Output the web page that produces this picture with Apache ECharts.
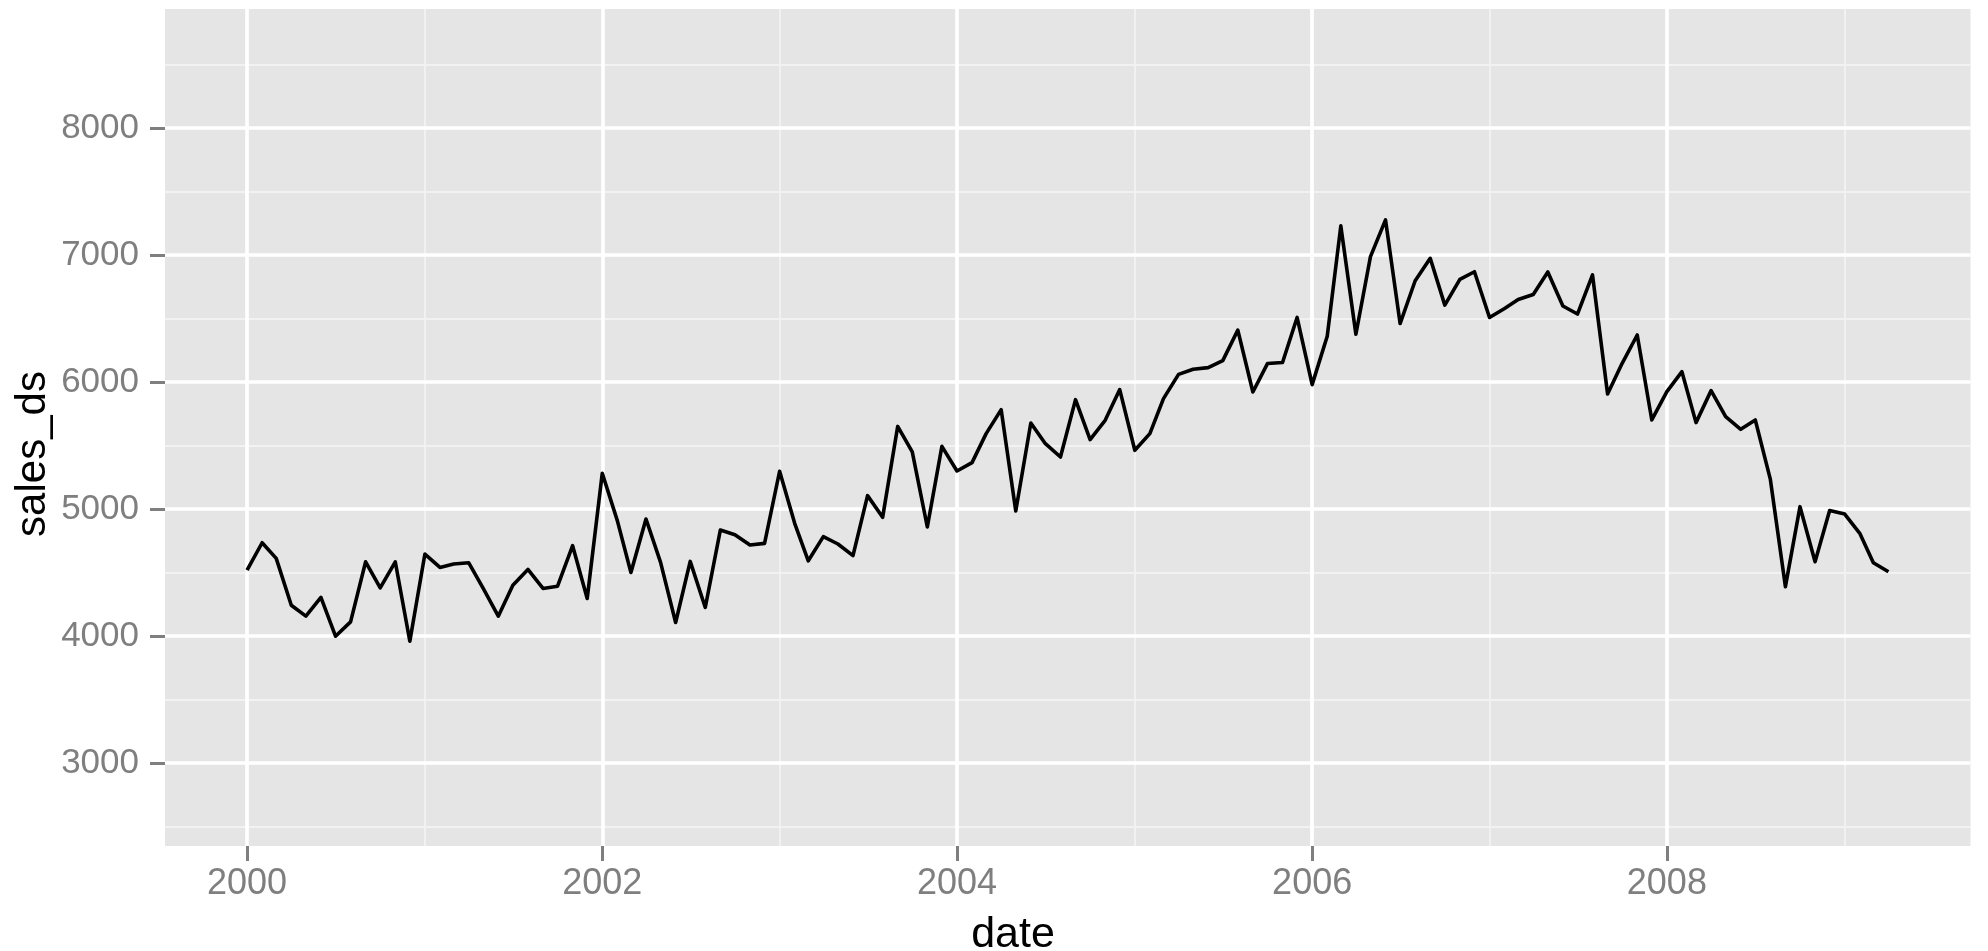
<!DOCTYPE html>
<html>
<head>
    <meta charset="UTF-8">
    <title>sales_ds</title>
    <script src="https://cdn.jsdelivr.net/npm/echarts@6/dist/echarts.min.js"></script>
    <style>
        html, body { margin: 0; padding: 0; background: #fff; }
        #chart { width: 1988px; height: 951px; }
    </style>
</head>
<body>
    <div id="chart"></div>

    <script>
        // monthly values, Jan 2000 .. Apr 2009
        const sales_ds = [
            4518, 4734, 4611, 4242, 4156, 4303, 3998, 4111, 4584, 4379, 4584, 3958,
            4645, 4540, 4566, 4577, 4374, 4156, 4400, 4524, 4374, 4392, 4711, 4295,
            5281, 4908, 4500, 4921, 4579, 4106, 4587, 4224, 4834, 4797, 4716, 4729,
            5297, 4887, 4592, 4782, 4724, 4632, 5105, 4934, 5650, 5449, 4858, 5493,
            5299, 5365, 5593, 5782, 4984, 5677, 5514, 5409, 5861, 5546, 5698, 5940,
            5462, 5593, 5869, 6060, 6100, 6113, 6168, 6408, 5921, 6145, 6153, 6508,
            5979, 6360, 7229, 6376, 6987, 7276, 6460, 6797, 6974, 6605, 6808, 6868,
            6508, 6579, 6650, 6689, 6866, 6598, 6535, 6843, 5905, 6147, 6370, 5701,
            5924, 6081, 5680, 5932, 5727, 5627, 5701, 5233, 4388, 5018, 4585, 4987,
            4960, 4808, 4577, 4506
        ];
        const firstYear = 2000;

        const xTickYears = [2000, 2002, 2004, 2006, 2008];
        const xMinorYears = [2001, 2003, 2005, 2007, 2009];
        const yTicks = [3000, 4000, 5000, 6000, 7000, 8000];
        const yMinorTicks = [2500, 3500, 4500, 5500, 6500, 7500, 8500];
        const yRange = [2346, 8937];

        const FONT = "'Liberation Sans', Arial, Helvetica, sans-serif";
        const GREY = '#7F7F7F';

        // one point per month
        const points = sales_ds.map((v, i) => [Date.UTC(firstYear, i, 1), v]);
        const t0 = points[0][0];
        const t1 = points[points.length - 1][0];
        const pad = (t1 - t0) * 0.05; // ggplot default expansion
        const yearTs = y => Date.UTC(y, 0, 1);

        const chart = echarts.init(document.getElementById('chart'));

        const hidden = { show: false };

        chart.setOption({
            animation: false,
            backgroundColor: '#ffffff',
            grid: {
                left: 165, top: 9, right: 17.5, bottom: 105,
                show: true, backgroundColor: '#E5E5E5', borderWidth: 0,
                containLabel: false, outerBoundsMode: 'none'
            },
            xAxis: [
                {   // minor grid
                    type: 'value', position: 'bottom', min: t0 - pad, max: t1 + pad, z: 0,
                    axisLine: hidden, axisLabel: hidden,
                    axisTick: { show: false, customValues: xMinorYears.map(yearTs) },
                    splitLine: { show: true, lineStyle: { color: '#F2F2F2', width: 1.8 } }
                },
                {   // major grid + labels
                    type: 'value', position: 'bottom', offset: 0, min: t0 - pad, max: t1 + pad, z: 1,
                    axisLine: hidden,
                    axisTick: {
                        show: true, length: 15, customValues: xTickYears.map(yearTs),
                        lineStyle: { color: GREY, width: 3 }
                    },
                    axisLabel: {
                        customValues: xTickYears.map(yearTs),
                        formatter: v => String(new Date(v).getUTCFullYear()),
                        color: GREY, fontSize: 36, fontFamily: FONT, margin: 20
                    },
                    splitLine: { show: true, lineStyle: { color: '#FFFFFF', width: 3.7 } }
                }
            ],
            yAxis: [
                {
                    type: 'value', position: 'left', min: yRange[0], max: yRange[1], z: 0,
                    axisLine: hidden, axisLabel: hidden,
                    axisTick: { show: false, customValues: yMinorTicks },
                    splitLine: { show: true, lineStyle: { color: '#F2F2F2', width: 1.8 } }
                },
                {
                    type: 'value', position: 'left', offset: 0, min: yRange[0], max: yRange[1], z: 1,
                    axisLine: hidden,
                    axisTick: {
                        show: true, length: 15, customValues: yTicks,
                        lineStyle: { color: GREY, width: 3 }
                    },
                    axisLabel: {
                        customValues: yTicks,
                        formatter: v => String(v),
                        color: GREY, fontSize: 35, fontFamily: FONT, margin: 26
                    },
                    splitLine: { show: true, lineStyle: { color: '#FFFFFF', width: 3.7 } }
                }
            ],
            graphic: [
                {
                    type: 'text', x: 1013, y: 935,
                    style: {
                        text: 'date', fill: '#000', font: '43px ' + FONT,
                        textAlign: 'center', textVerticalAlign: 'middle'
                    }
                },
                {
                    type: 'text', x: 33, y: 454, rotation: Math.PI / 2,
                    style: {
                        text: 'sales_ds', fill: '#000', font: '42px ' + FONT,
                        textAlign: 'center', textVerticalAlign: 'middle'
                    }
                }
            ],
            series: [{
                type: 'line',
                xAxisIndex: 1,
                yAxisIndex: 1,
                data: points,
                symbol: 'none',
                lineStyle: { color: '#000000', width: 3.6, join: 'round' },
                z: 5
            }]
        });
    </script>
</body>
</html>
